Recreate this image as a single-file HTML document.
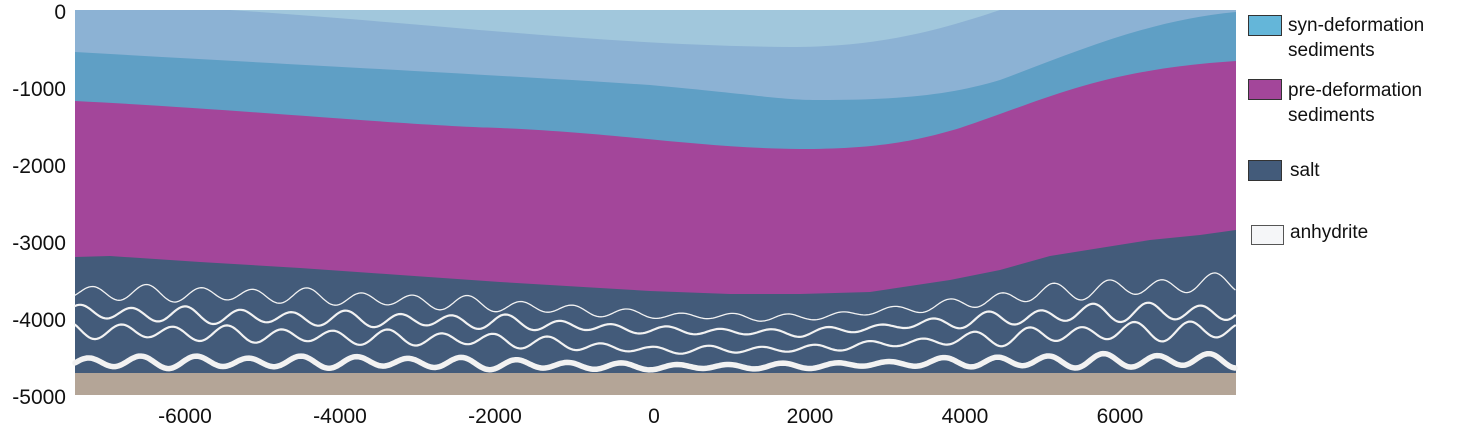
<!DOCTYPE html>
<html><head><meta charset="utf-8"><style>
html,body{margin:0;padding:0;background:#fff;}
body{width:1458px;height:433px;overflow:hidden;font-family:"Liberation Sans",sans-serif;}
</style></head><body>
<svg id="s" width="1458" height="433" xmlns="http://www.w3.org/2000/svg">
<rect x="75" y="10" width="1161" height="385" fill="#8cb2d4"/>
<path d="M230,10 C450,25 600,45 790,47 C880,47 940,30 1000,10 Z" fill="#a1c7dc"/>
<path d="M75,52 C300,65 500,75 650,85 C760,95 780,100 820,100 C900,100 950,95 1000,80 C1080,50 1150,20 1236,12 L1236,395 L75,395 Z" fill="#5f9fc5"/>
<path d="M75,101 C250,110 400,125 500,128 C620,133 700,148 800,149 C880,149 920,140 960,128 C1050,98 1100,70 1236,61 L1236,395 L75,395 Z" fill="#a3469a"/>
<path d="M75,257 L110,256 L200,262 L300,268 L400,275 L500,282 L600,288 L650,291 L730,294 L800,294 L870,292 L950,280 L1000,270 L1050,256 L1100,248 L1150,240 L1200,235 L1236,230 L1236,395 L75,395 Z" fill="#435b7a"/>
<rect x="75" y="373" width="1161" height="22" fill="#b4a597"/>
<g id="lines" fill="none" stroke="#f2f2f2" stroke-linecap="round" stroke-linejoin="round"></g>
<g font-size="21" fill="#111" text-anchor="end" font-family="Liberation Sans, sans-serif">
<text x="66" y="19">0</text><text x="66" y="96">-1000</text><text x="66" y="173">-2000</text><text x="66" y="250">-3000</text><text x="66" y="327">-4000</text><text x="66" y="404">-5000</text>
</g>
<g font-size="21" fill="#111" text-anchor="middle" font-family="Liberation Sans, sans-serif">
<text x="185" y="423">-6000</text><text x="340" y="423">-4000</text><text x="495" y="423">-2000</text><text x="654" y="423">0</text><text x="810" y="423">2000</text><text x="965" y="423">4000</text><text x="1120" y="423">6000</text>
</g>
<rect x="1248.5" y="15.5" width="33" height="20" fill="#64b6d9" stroke="#333"/>
<rect x="1248.5" y="79.5" width="33" height="20" fill="#a3469a" stroke="#333"/>
<rect x="1248.5" y="160.5" width="33" height="20" fill="#435b7a" stroke="#333"/>
<rect x="1251.5" y="225.5" width="32" height="19" fill="#f5f6f8" stroke="#555"/>
<g font-size="19" fill="#111" font-family="Liberation Sans, sans-serif">
<text x="1288" y="31">syn-deformation</text><text x="1288" y="56">sediments</text>
<text x="1288" y="96">pre-deformation</text><text x="1288" y="121">sediments</text>
<text x="1290" y="176">salt</text>
<text x="1290" y="238">anhydrite</text>
</g>
</svg>
<script>
(function(){
var g=document.getElementById('lines');
function interp(pts,x){for(var i=0;i<pts.length-1;i++){if(x<=pts[i+1][0]){var t=(x-pts[i][0])/(pts[i+1][0]-pts[i][0]);return pts[i][1]+t*(pts[i+1][1]-pts[i][1]);}}return pts[pts.length-1][1];}
var amp=[[75,9],[500,8],[650,4],[900,4],[1000,9],[1236,11]];
var L=[
{c:[[75,292],[300,296],[500,305],[650,315],[800,318],[950,305],[1050,292],[1236,282]],w:1.3,ph:0},
{c:[[75,312],[300,318],[500,322],[650,330],[800,333],[950,322],[1100,312],[1236,312]],w:2.2,ph:1.7},
{c:[[75,330],[300,336],[500,340],[650,350],[800,349],[950,340],[1100,332],[1236,330]],w:2.2,ph:3.1},
{c:[[75,362],[400,362],[650,367],[800,366],[950,362],[1236,360]],w:5.5,ph:0.6,a:0.75}
];
L.forEach(function(l){var d='';for(var x=75;x<=1236;x+=2){var a=interp(amp,x)*(l.a||1);var y=interp(l.c,x)+a*(0.8*Math.sin(x/8.5+l.ph)+0.2*Math.sin(x/13+l.ph*2));d+=(x==75?'M':'L')+x+','+y.toFixed(1);}
var p=document.createElementNS('http://www.w3.org/2000/svg','path');p.setAttribute('d',d);p.setAttribute('stroke-width',l.w);g.appendChild(p);});
})();
</script>
</body></html>
